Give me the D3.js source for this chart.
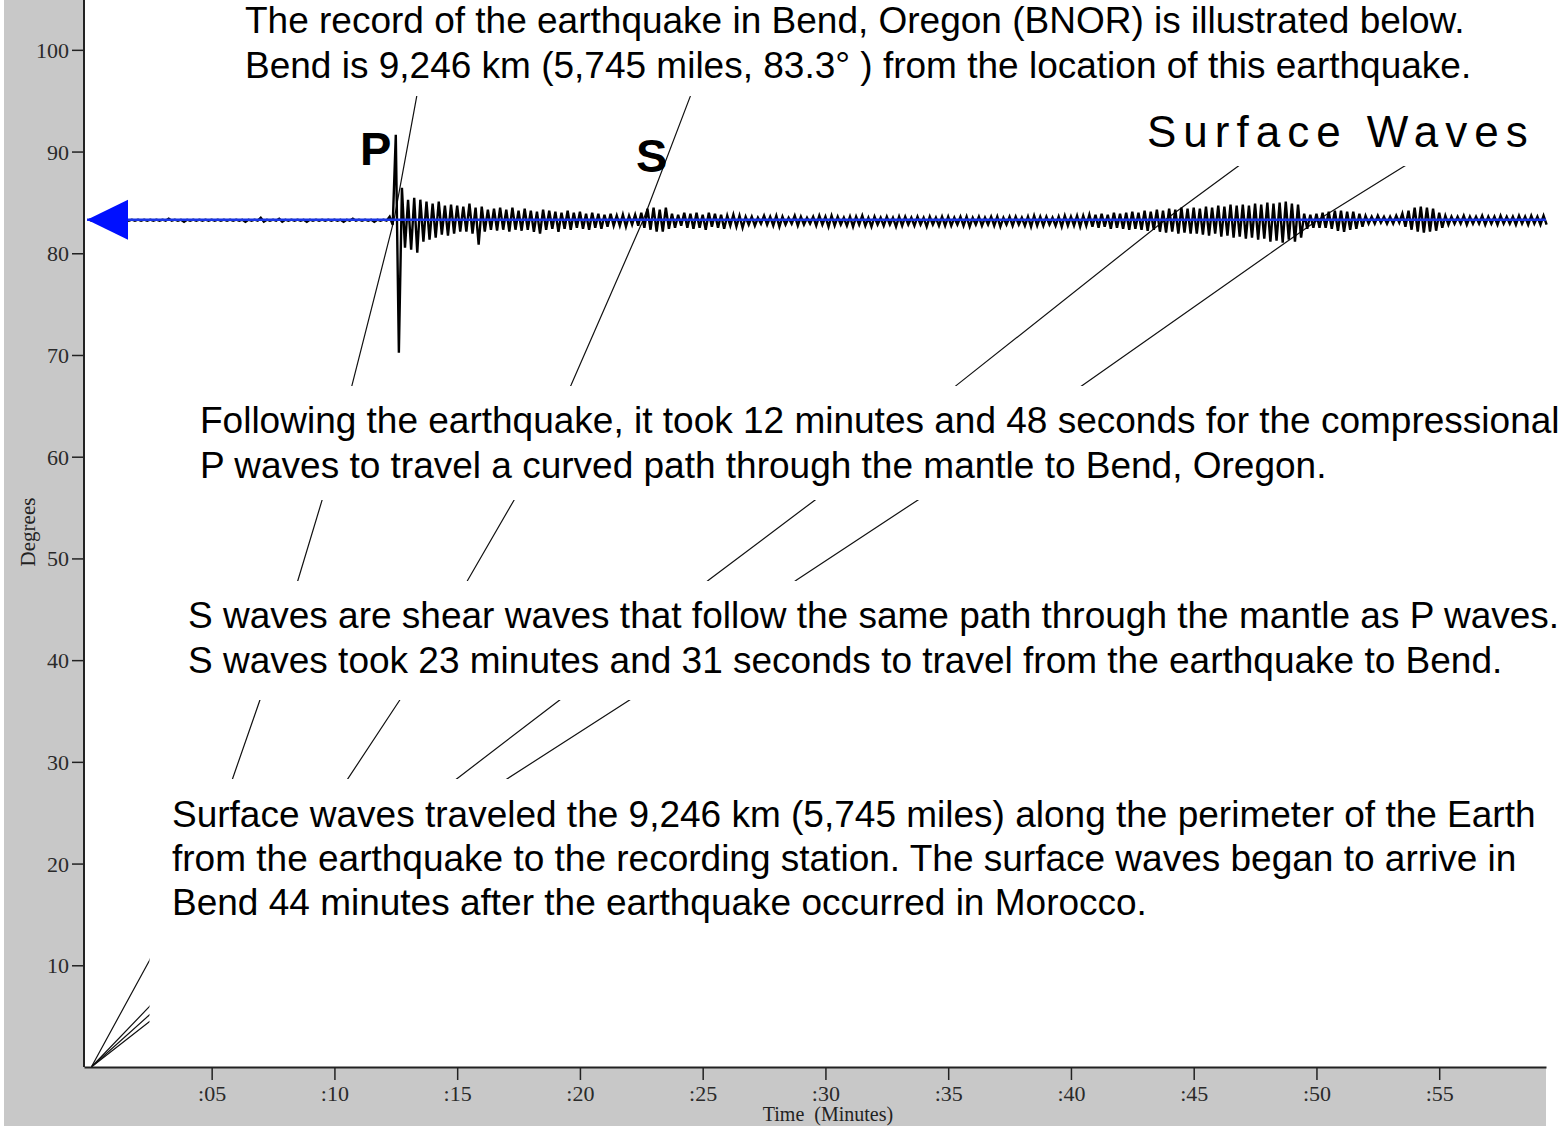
<!DOCTYPE html>
<html>
<head>
<meta charset="utf-8">
<script src="https://cdn.jsdelivr.net/npm/d3@7"></script>
<style>
  html, body { margin: 0; padding: 0; background: #fff; }
  svg { display: block; }
  .note { font-family: "Liberation Sans", Arial, sans-serif; fill: #000; }
  .axis text { font-family: "Liberation Serif", "Times New Roman", serif; fill: #2a2a2a; }
</style>
</head>
<body>
<svg id="chart" width="1562" height="1129"></svg>
<script>
// travel-time curves, [minutes, degrees]
const pWave = [[0.1, 0], [2.46, 10.45], [5.83, 28.2], [6.97, 36.1], [8.52, 47.9], [9.5, 55.75], [10.72, 67.06], [12.43, 83.3], [13.35, 95.4], [13.8, 102]];
const sWave = [[0.1, 0], [2.46, 5.93], [10.51, 28.2], [12.67, 36.1], [15.44, 47.9], [17.32, 55.75], [19.64, 67.06], [22.58, 83.3], [24.49, 95.4], [25.3, 102]];
const loveWave = [[0.1, 0], [2.46, 5.11], [14.91, 28.2], [19.19, 36.1], [25.26, 47.9], [29.58, 55.75], [35.36, 67.06], [43.9, 83.4], [46.89, 88.7], [49.5, 93]];
const rayleighWave = [[0.1, 0], [2.46, 4.45], [16.95, 28.2], [22.04, 36.1], [28.84, 47.9], [33.77, 55.75], [40.49, 67.06], [50.07, 83.3], [53.54, 88.5], [56.5, 92.5]];

// BNOR record: station distance, crest amplitudes (counts) every 0.25 min,
// trough amplitudes half a step after each crest
const stationDeg = 83.3;
const sampleStep = 0.25;
const traceUp = [
  0, 0, 0, 0, 0, 1, 0, 0, 0, 0, 0, 0, 0, 1, 0, 0, 0, 0, 0, 0,
  0, 0, 0, 0, 0, 0, 0, 0, 2, 0, 0, 1, 0, 0, 0, 0, 0, 0, 0, 0,
  0, 0, 0, 1, 0, 0, 0, 0, 0, 3, 85, 32, 20, 22, 20, 18, 16, 18, 14, 15,
  14, 13, 16, 12, 13, 10, 11, 12, 10, 12, 9, 11, 9, 8, 10, 9, 8, 7, 9, 7,
  8, 6, 7, 6, 5, 6, 4, 5, 4, 5, 7, 11, 12, 10, 12, 6, 5, 7, 6, 7,
  5, 7, 6, 5, 4, 5, 4, 3, 3, 2, 4, 3, 4, 3, 2, 4, 3, 2, 3, 4,
  3, 4, 3, 2, 3, 3, 4, 2, 3, 2, 3, 2, 3, 3, 2, 3, 2, 3, 2, 3,
  3, 2, 3, 3, 2, 3, 2, 3, 3, 2, 3, 3, 2, 3, 4, 3, 3, 2, 3, 4,
  3, 4, 4, 5, 5, 6, 5, 7, 6, 7, 8, 7, 9, 8, 10, 9, 11, 10, 12, 11,
  12, 11, 13, 12, 14, 13, 15, 14, 15, 14, 16, 15, 17, 16, 17, 18, 16, 15, 6, 5,
  6, 7, 8, 9, 9, 8, 8, 6, 4, 3, 4, 3, 3, 4, 6, 9, 12, 13, 12, 11,
  7, 4, 3, 3, 4, 3, 3, 4, 3, 3, 4, 3, 3, 4, 3, 4, 3, 4
];
const traceDown = [
  1, 2, 2, 1, 1, 1, 1, 1, 1, 1, 1, 1, 1, 1, 1, 2, 1, 1, 1, 1,
  1, 1, 1, 1, 1, 2, 1, 1, 2, 1, 1, 2, 1, 1, 1, 2, 1, 1, 1, 1,
  1, 2, 1, 1, 1, 1, 2, 1, 1, 5, 133, 28, 30, 33, 22, 20, 18, 15, 16, 14,
  12, 12, 14, 25, 12, 10, 11, 10, 12, 10, 11, 10, 12, 14, 10, 9, 12, 9, 10, 8,
  9, 10, 8, 9, 7, 6, 6, 7, 5, 6, 8, 10, 12, 12, 9, 8, 6, 8, 9, 8,
  10, 7, 8, 9, 6, 7, 8, 5, 6, 4, 5, 6, 7, 5, 4, 6, 5, 4, 6, 5,
  7, 6, 5, 6, 7, 5, 6, 7, 5, 6, 5, 7, 6, 5, 6, 5, 7, 5, 6, 6,
  6, 5, 6, 7, 5, 6, 5, 6, 7, 5, 6, 5, 6, 7, 6, 6, 5, 6, 7, 6,
  6, 7, 6, 7, 8, 7, 9, 8, 9, 10, 9, 10, 11, 10, 12, 13, 12, 14, 13, 14,
  14, 15, 16, 14, 17, 16, 18, 17, 19, 18, 20, 19, 22, 21, 23, 20, 22, 18, 9, 8,
  8, 8, 9, 11, 12, 10, 9, 7, 4, 4, 3, 4, 4, 3, 7, 10, 12, 13, 12, 11,
  8, 5, 4, 4, 5, 4, 4, 5, 4, 5, 4, 4, 5, 4, 5, 4, 5, 5
];

const timeTicks = [5, 10, 15, 20, 25, 30, 35, 40, 45, 50, 55];
const degreeTicks = [10, 20, 30, 40, 50, 60, 70, 80, 90, 100];

const svg = d3.select('#chart');

const x = d3.scaleLinear().domain([-0.2, 59.35]).range([84, 1546]);
const y = d3.scaleLinear().domain([0, 104.9]).range([1067, 0]);
const amp = d3.scaleLinear().domain([-150, 150]).range([150, -150]);

// frame
svg.append('rect').attr('x', 4).attr('y', 0).attr('width', 1542).attr('height', 1126).attr('fill', '#c8c8c8');
svg.append('rect').attr('x', x.range()[0]).attr('y', 0)
  .attr('width', x.range()[1] - x.range()[0]).attr('height', y(0)).attr('fill', '#fff');

// travel-time curves
const line = d3.line().x(d => x(d[0])).y(d => y(d[1]));
svg.append('g')
  .selectAll('path')
  .data([pWave, sWave, loveWave, rayleighWave])
  .join('path')
  .attr('d', line)
  .attr('fill', 'none')
  .attr('stroke', '#111')
  .attr('stroke-width', 1.2);

// text panels hide the curves under them
const panels = [
  [235, 0, 1562, 96],
  [1140, 96, 1562, 166],
  [192, 386, 1562, 500],
  [180, 581, 1562, 700],
  [149.5, 779, 1562, 1066]
];
svg.append('g')
  .selectAll('rect')
  .data(panels)
  .join('rect')
  .attr('x', d => d[0]).attr('y', d => d[1])
  .attr('width', d => d[2] - d[0]).attr('height', d => d[3] - d[1])
  .attr('fill', '#fff');

// seismogram: zigzag crest -> trough -> crest
const base = y(stationDeg);
const wigglePts = [];
traceUp.forEach((u, i) => {
  wigglePts.push([i * sampleStep, u]);
  wigglePts.push([i * sampleStep + sampleStep / 2, -traceDown[i]]);
});
svg.append('path')
  .datum(wigglePts)
  .attr('d', d3.line().x(d => x(d[0])).y(d => base + amp(d[1])))
  .attr('fill', 'none')
  .attr('stroke', '#000')
  .attr('stroke-width', 2.4)
  .attr('stroke-linejoin', 'miter');

// station marker
svg.append('line')
  .attr('x1', 87).attr('x2', x(59.35))
  .attr('y1', base).attr('y2', base)
  .attr('stroke', '#1a36e6').attr('stroke-width', 2.5);
svg.append('path')
  .attr('d', `M87,${base} L128,${base - 20} L128,${base + 20} Z`)
  .attr('fill', '#0010ff');

// axes
const xAxis = svg.append('g')
  .attr('class', 'axis')
  .attr('transform', `translate(0,${y(0)})`)
  .call(d3.axisBottom(x).tickValues(timeTicks).tickSize(13).tickSizeOuter(0)
    .tickFormat(d => ':' + d3.format('02')(d)));
xAxis.selectAll('text').attr('font-size', 22).attr('y', 34).attr('dy', 0);

const yAxis = svg.append('g')
  .attr('class', 'axis')
  .attr('transform', `translate(${x.range()[0]},0)`)
  .call(d3.axisLeft(y).tickValues(degreeTicks).tickSize(12).tickSizeOuter(0));
yAxis.selectAll('text').attr('font-size', 22).attr('x', -15).attr('dy', '0.34em');

svg.selectAll('.axis path.domain').attr('stroke', '#222').attr('stroke-width', 2);
svg.selectAll('.axis .tick line').attr('stroke', '#222').attr('stroke-width', 1.5);
// extend y axis domain up to the top of the plot
yAxis.select('path.domain').attr('d', `M0,${y(0)}V0`);

svg.append('text')
  .attr('x', 828).attr('y', 1121)
  .attr('text-anchor', 'middle')
  .style('font-family', '"Liberation Serif", "Times New Roman", serif')
  .style('font-size', '20px').style('fill', '#222')
  .style('white-space', 'pre')
  .text('Time  (Minutes)');

svg.append('text')
  .attr('transform', `translate(35,532) rotate(-90)`)
  .attr('text-anchor', 'middle')
  .style('font-family', '"Liberation Serif", "Times New Roman", serif')
  .style('font-size', '21px').style('fill', '#222')
  .text('Degrees');

// annotations
const notes = [
  { x: 245, y: 33, text: 'The record of the earthquake in Bend, Oregon (BNOR) is illustrated below.' },
  { x: 245, y: 78, text: 'Bend is 9,246 km (5,745 miles, 83.3° ) from the location of this earthquake.' },
  { x: 200, y: 433, text: 'Following the earthquake, it took 12 minutes and 48 seconds for the compressional' },
  { x: 200, y: 478, text: 'P waves to travel a curved path through the mantle to Bend, Oregon.' },
  { x: 188, y: 628, text: 'S waves are shear waves that follow the same path through the mantle as P waves.' },
  { x: 188, y: 673, text: 'S waves took 23 minutes and 31 seconds to travel from the earthquake to Bend.' },
  { x: 172, y: 827, text: 'Surface waves traveled the 9,246 km (5,745 miles) along the perimeter of the Earth' },
  { x: 172, y: 871, text: 'from the earthquake to the recording station. The surface waves began to arrive in' },
  { x: 172, y: 915, text: 'Bend 44 minutes after the earthquake occurred in Morocco.' }
];
svg.append('g')
  .selectAll('text')
  .data(notes)
  .join('text')
  .attr('class', 'note')
  .attr('x', d => d.x).attr('y', d => d.y)
  .style('font-size', '37px')
  .text(d => d.text);

svg.append('text').attr('class', 'note')
  .attr('x', 1147).attr('y', 147)
  .style('font-size', '44px').style('letter-spacing', '7px')
  .text('Surface Waves');
svg.append('text').attr('class', 'note')
  .attr('x', 360).attr('y', 165)
  .style('font-size', '47px').style('font-weight', 'bold')
  .text('P');
svg.append('text').attr('class', 'note')
  .attr('x', 636).attr('y', 172)
  .style('font-size', '47px').style('font-weight', 'bold')
  .text('S');
</script>
</body>
</html>
